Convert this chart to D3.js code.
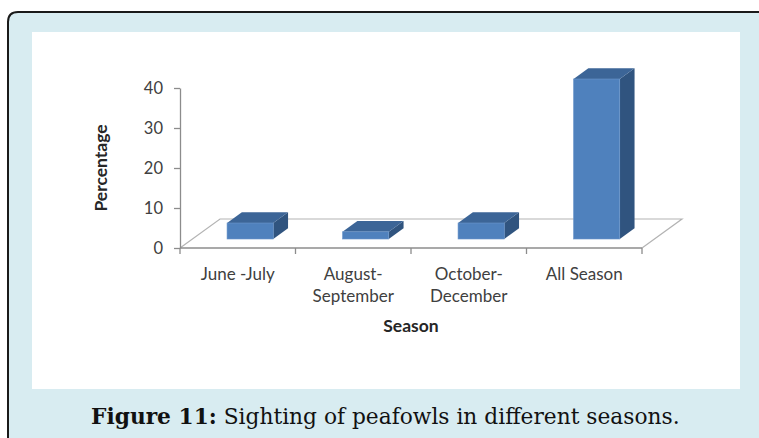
<!DOCTYPE html>
<html>
<head>
<meta charset="utf-8">
<script src="https://cdn.jsdelivr.net/npm/d3@7"></script>
<style>
  html, body { margin: 0; padding: 0; background: #ffffff; }
  svg { display: block; }
</style>
</head>
<body>
<svg id="chart" width="759" height="438"></svg>
<script>
// ---- data ----
const categories = ["June -July", "August-September", "October-December", "All Season"];
const categoryLabels = [["June -July"], ["August-", "September"], ["October-", "December"], ["All Season"]];
const values = [4, 1.8, 4, 40];
const yTicks = [0, 10, 20, 30, 40];
const yTitle = "Percentage";
const xTitle = "Season";
const captionBold = "Figure 11:";
const captionText = " Sighting of peafowls in different seasons.";

const svg = d3.select("#chart");
const sans = "Lato, 'Open Sans', sans-serif";

// outer frame
svg.append("path")
  .attr("d", "M8,440 L8,22 Q8,12 18,12 L770,12 L770,440 Z")
  .attr("fill", "#d8ecf1")
  .attr("stroke", "#1a1a1a")
  .attr("stroke-width", 2);

// white chart panel
svg.append("rect")
  .attr("x", 32).attr("y", 32).attr("width", 708).attr("height", 357)
  .attr("fill", "#ffffff");

// scales
const x = d3.scaleBand().domain(categories).range([180, 642]);
const y = d3.scaleLinear().domain([0, 40]).range([248, 88]);
const floorDx = 40, floorDy = -29;
const frontFrac = 0.31, depthFrac = 0.37;
const bw = x.bandwidth() * 0.4;

const g = svg.append("g");

// floor
const x0 = x.range()[0], x1 = x.range()[1], y0 = y(0);
g.append("path")
  .attr("d", `M${x0},${y0} L${x0 + floorDx},${y0 + floorDy} L${x1 + floorDx},${y0 + floorDy} L${x1},${y0}`)
  .attr("fill", "none")
  .attr("stroke", "#b3b3b3")
  .attr("stroke-width", 1.2);

// category axis line and ticks
g.append("line")
  .attr("x1", x0).attr("x2", x1).attr("y1", y0).attr("y2", y0)
  .attr("stroke", "#8c8c8c").attr("stroke-width", 1.3);
const bounds = categories.map(c => x(c)).concat([x1]);
g.selectAll("line.ctick").data(bounds).join("line")
  .attr("class", "ctick")
  .attr("x1", d => d).attr("x2", d => d)
  .attr("y1", y0).attr("y2", y0 + 6)
  .attr("stroke", "#8c8c8c").attr("stroke-width", 1.3);

// y axis
const yAxis = d3.axisLeft(y).tickValues(yTicks).tickSize(6).tickSizeOuter(0).tickPadding(11);
const ya = g.append("g").attr("transform", `translate(${x0},0)`).call(yAxis);
ya.select(".domain").attr("stroke", "#8c8c8c").attr("stroke-width", 1.3);
ya.selectAll(".tick line").attr("stroke", "#8c8c8c").attr("stroke-width", 1.3);
ya.selectAll(".tick text")
  .attr("font-family", sans)
  .attr("font-size", 16.5)
  .attr("fill", "#404040");

// bars (3D)
const bars = g.selectAll("g.bar").data(values).join("g").attr("class", "bar");
bars.each(function (v, i) {
  const c = categories[i];
  const fx = x(c) + x.bandwidth() * 0.3 + floorDx * frontFrac;
  const by = y0 + floorDy * frontFrac;
  const h = y0 - y(v);
  const ty = by - h;
  const ddx = floorDx * depthFrac, ddy = floorDy * depthFrac;
  const sel = d3.select(this);
  // side face
  sel.append("path")
    .attr("d", `M${fx + bw},${by} L${fx + bw},${ty} L${fx + bw + ddx},${ty + ddy} L${fx + bw + ddx},${by + ddy} Z`)
    .attr("fill", "#30547f");
  // top face
  sel.append("path")
    .attr("d", `M${fx},${ty} L${fx + ddx},${ty + ddy} L${fx + bw + ddx},${ty + ddy} L${fx + bw},${ty} Z`)
    .attr("fill", "#3c6597");
  // front face
  sel.append("rect")
    .attr("x", fx).attr("y", ty).attr("width", bw).attr("height", h)
    .attr("fill", "#4f81bd")
    .attr("stroke", "#6a96cb").attr("stroke-width", 0.6);
});

// category labels
const lab = g.selectAll("text.cat").data(categoryLabels).join("text")
  .attr("class", "cat")
  .attr("text-anchor", "middle")
  .attr("font-family", sans)
  .attr("font-size", 17)
  .attr("fill", "#404040");
lab.each(function (lines, i) {
  const cx = x(categories[i]) + x.bandwidth() / 2;
  d3.select(this).selectAll("tspan").data(lines).join("tspan")
    .attr("x", cx)
    .attr("y", (d, j) => 280 + j * 22)
    .text(d => d);
});

// axis titles
g.append("text")
  .attr("x", (x0 + x1) / 2).attr("y", 332)
  .attr("text-anchor", "middle")
  .attr("font-family", sans)
  .attr("font-weight", "bold")
  .attr("font-size", 17.5)
  .attr("fill", "#262626")
  .text(xTitle);

g.append("text")
  .attr("transform", "translate(107,168) rotate(-90)")
  .attr("text-anchor", "middle")
  .attr("font-family", sans)
  .attr("font-weight", "bold")
  .attr("font-size", 17.5)
  .attr("fill", "#262626")
  .text(yTitle);

// caption
const capFont = 22.5;
const cap = svg.append("text")
  .attr("x", 0).attr("y", 0)
  .attr("font-family", "'DejaVu Serif', serif")
  .attr("font-size", capFont)
  .attr("fill", "#111");
cap.append("tspan").attr("font-weight", "bold").text(captionBold);
cap.append("tspan").text(captionText);
const w = cap.node().getComputedTextLength();
const target = 589;
cap.attr("transform", `translate(91,424) scale(${target / w},1)`);
</script>
</body>
</html>
